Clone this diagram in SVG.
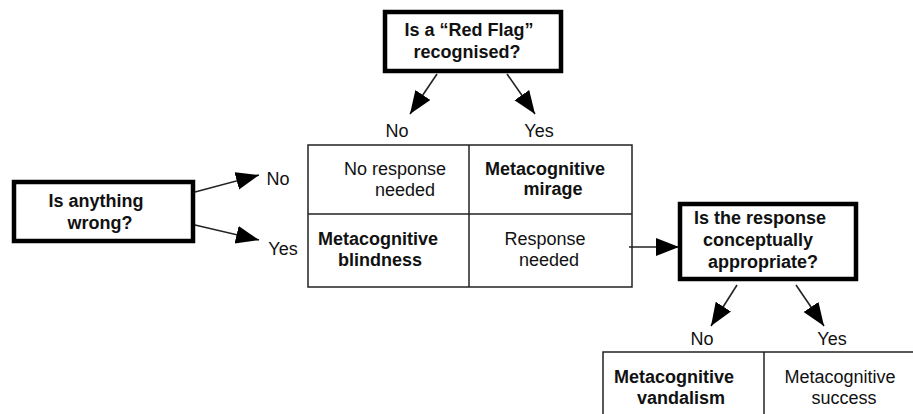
<svg xmlns="http://www.w3.org/2000/svg" width="913" height="414" viewBox="0 0 913 414">
<style>
text{font-family:"Liberation Sans",Arial,sans-serif;font-size:18px;fill:#111}
.b{font-weight:bold}
.box{fill:#fff;stroke:#000;stroke-width:4.5}
.grid{fill:none;stroke:#222;stroke-width:1.5}
.arr{fill:none;stroke:#222;stroke-width:1.6;marker-end:url(#ah)}
</style>
<defs>
<marker id="ah" markerUnits="userSpaceOnUse" markerWidth="26" markerHeight="20" refX="23" refY="9" orient="auto">
<path d="M0,0 L23,9 L0,18 z" fill="#000"/>
</marker>
</defs>
<rect width="913" height="414" fill="#fff"/>

<g id="connectors">
<line class="arr" x1="437" y1="74" x2="410" y2="114"/>
<line class="arr" x1="507" y1="74" x2="535" y2="114"/>
<line class="arr" x1="195" y1="192" x2="259" y2="175"/>
<line class="arr" x1="195" y1="225" x2="259" y2="240"/>
<line class="arr" x1="629" y1="247" x2="679" y2="247"/>
<line class="arr" x1="737" y1="285" x2="711" y2="326"/>
<line class="arr" x1="796" y1="285" x2="824" y2="326"/>
</g>

<g id="redflag">
<rect class="box" x="385" y="12" width="176" height="59"/>
<text class="b" x="469" y="36" text-anchor="middle">Is a “Red Flag”</text>
<text class="b" x="467" y="58" text-anchor="middle">recognised?</text>
</g>

<g id="top-labels">
<text x="397" y="137" text-anchor="middle">No</text>
<text x="539" y="137" text-anchor="middle">Yes</text>
</g>

<g id="anything">
<rect class="box" x="14" y="182" width="179" height="59"/>
<text class="b" x="96" y="207" text-anchor="middle">Is anything</text>
<text class="b" x="100" y="229" text-anchor="middle">wrong?</text>
</g>

<g id="left-labels">
<text x="278" y="185" text-anchor="middle">No</text>
<text x="283" y="255" text-anchor="middle">Yes</text>
</g>

<g id="matrix">
<rect class="grid" x="308" y="145" width="324" height="142"/>
<line class="grid" x1="469" y1="145" x2="469" y2="287"/>
<line class="grid" x1="308" y1="214" x2="632" y2="214"/>
<text x="395" y="175" text-anchor="middle">No response</text>
<text x="405" y="196" text-anchor="middle">needed</text>
<text class="b" x="545" y="175" text-anchor="middle">Metacognitive</text>
<text class="b" x="553" y="195" text-anchor="middle">mirage</text>
<text class="b" x="378" y="245" text-anchor="middle">Metacognitive</text>
<text class="b" x="380" y="266" text-anchor="middle">blindness</text>
<text x="545" y="245" text-anchor="middle">Response</text>
<text x="549" y="266" text-anchor="middle">needed</text>
</g>

<g id="appropriate">
<rect class="box" x="680" y="204" width="176" height="75"/>
<text class="b" x="760" y="224" text-anchor="middle">Is the response</text>
<text class="b" x="758" y="246" text-anchor="middle">conceptually</text>
<text class="b" x="763" y="268" text-anchor="middle">appropriate?</text>
</g>

<g id="bottom-labels">
<text x="702" y="345" text-anchor="middle">No</text>
<text x="832" y="345" text-anchor="middle">Yes</text>
</g>

<g id="outcomes">
<polyline class="grid" points="603,414 603,352 913,352"/>
<line class="grid" x1="764" y1="352" x2="764" y2="414"/>
<text class="b" x="674" y="383" text-anchor="middle">Metacognitive</text>
<text class="b" x="681" y="404" text-anchor="middle">vandalism</text>
<text x="840" y="383" text-anchor="middle">Metacognitive</text>
<text x="844" y="404" text-anchor="middle">success</text>
</g>
</svg>
